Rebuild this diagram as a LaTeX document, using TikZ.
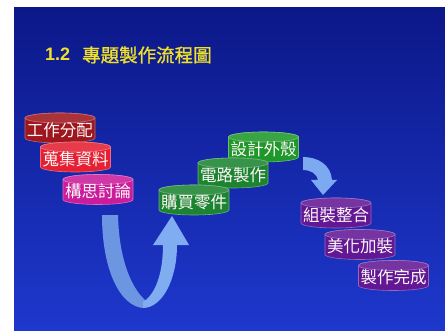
\documentclass[tikz,border=0pt]{standalone}
\usepackage{fontspec}
\setmainfont{Liberation Sans}
\newfontfamily\cjk{Noto Sans CJK TC}
\newfontfamily\cjkbold[FakeBold=1.2]{Noto Sans CJK TC}
\definecolor{bgtop}{RGB}{12,24,136}
\definecolor{bgbot}{RGB}{30,56,205}
\definecolor{ctitle}{RGB}{240,225,40}
\definecolor{cdred}{RGB}{158,22,30}
\definecolor{cred}{RGB}{228,32,50}
\definecolor{cmag}{RGB}{202,28,155}
\definecolor{cgreen}{RGB}{28,132,48}
\definecolor{cgreenb}{RGB}{30,152,42}
\definecolor{cpurp}{RGB}{98,24,148}
\definecolor{arrL}{RGB}{108,150,226}
\definecolor{arrR}{RGB}{128,172,242}
\tikzset{
  cyltext/.style={font=\cjk\fontsize{16.5}{17}\selectfont, text=white!88!pink, inner sep=0pt},
  titletext/.style={text=ctitle, inner sep=0pt, anchor=base west},
}
\newcommand\cylnode[5]{%
  \fill[#4, draw=#4!65!white, line width=0.6pt] (#2-35,#3+10) -- (#2-35,#3-10)
     arc[start angle=180,end angle=360,x radius=35pt,y radius=5pt] -- (#2+35,#3+10)
     arc[start angle=0,end angle=180,x radius=35pt,y radius=5pt] -- cycle;
  \filldraw[fill=#4!88!white, draw=#4!60!white, line width=0.6pt] (#2,#3+10) ellipse[x radius=35pt,y radius=5pt];
  \node[cyltext] (#1) at (#2,#3-2) {#5};
}
\begin{document}
\begin{tikzpicture}[x=1pt,y=1pt]
\useasboundingbox (0,0) rectangle (445,330);
\fill[white] (0,0) rectangle (445,330);
\shade[top color=bgtop, bottom color=bgbot] (14,0) rectangle (445,322);
% title
\node[titletext, font=\bfseries\fontsize{18}{18}\selectfont] (tnum) at (45,269) {1.2};
\node[titletext, font=\cjkbold\fontsize{18.5}{19}\selectfont] (ttxt) at (82,268) {專題製作流程圖};
% cylinders
\cylnode{c1}{60}{202}{cdred}{工作分配}
\cylnode{c2}{75.5}{173}{cred}{蒐集資料}
\cylnode{c3}{98}{140.5}{cmag}{構思討論}
\cylnode{c6}{263.5}{183}{cgreenb}{設計外殼}
\cylnode{c5}{233}{157}{cgreen}{電路製作}
\cylnode{c4}{194}{130}{cgreen}{購買零件}
\cylnode{c7}{336}{117}{cpurp}{組裝整合}
\cylnode{c8}{360}{85.5}{cpurp}{美化加裝}
\cylnode{c9}{393.5}{54.5}{cpurp}{製作完成}
% U arrow
\coordinate (ubot) at (143,22);
\fill[arrL] (102,115) -- (118,115) .. controls (119,70) and (132,38) .. (150,26) -- (ubot)
   .. controls (120,24) and (102,60) .. (102,115) -- cycle;
\fill[arrR] (ubot) .. controls (162,22) and (177,50) .. (177,85) -- (189,85) -- (172,114) -- (153,85) -- (163,85)
   .. controls (163,58) and (156,36) .. (143,28) -- cycle;
% curved down arrow
\coordinate (dtip) at (323,135);
\fill[arrR!85!arrL] (303,173) .. controls (318,173) and (331,165) .. (332,150) -- (337,150) -- (dtip)
   -- (311,150) -- (318,150) .. controls (317,156) and (311,160) .. (303,160) -- cycle;
\end{tikzpicture}
\end{document}
